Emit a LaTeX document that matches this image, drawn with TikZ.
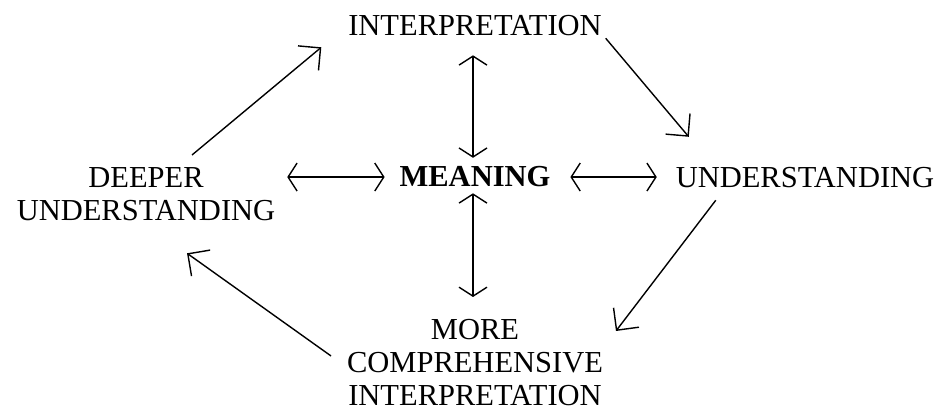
\documentclass[tikz,border=0pt]{standalone}
\usepackage{fontspec}
\setmainfont{Liberation Serif}
\usepackage{tikz}
\usetikzlibrary{arrows.meta, positioning}

\begin{document}
\begin{tikzpicture}[
  x=1pt, y=1pt,
  % Text labels (no frame)
  lbl/.style={inner sep=0pt, outer sep=0pt, align=center,
              font=\fontsize{30.5}{33}\selectfont},
  % Cycle arrows (single head, large barb)
  arrow/.style={-{Straight Barb[length=16pt, width=32pt]}, line width=1.4pt},
  % Links to the centre (head at both ends)
  darrow/.style={{Straight Barb[length=9pt, width=28pt]}-{Straight Barb[length=9pt, width=28pt]},
                 line width=1.4pt}
]
\useasboundingbox (0,0) rectangle (949,419);

%% ── Labels ──────────────────────────────────────────────────
\node[lbl, anchor=base]  (interp)  at (475, 383) {INTERPRETATION};
\node[lbl, anchor=base]  (meaning) at (475, 232) {\bfseries MEANING};
\node[lbl, anchor=base]  (under)   at (805, 231) {UNDERSTANDING};
\node[lbl, anchor=north] (deeper)  at (146, 251) {DEEPER\\UNDERSTANDING};
\node[lbl, anchor=north] (more)    at (475, 100)
    {MORE\\COMPREHENSIVE\\INTERPRETATION};

%% ── Outer cycle ─────────────────────────────────────────────
\draw[arrow] ([xshift=46pt, yshift=13pt]deeper.north)
          -- ([xshift=-27pt, yshift=-11pt]interp.south west);
\draw[arrow] ([xshift=4pt, yshift=-2pt]interp.south east)
          -- ([xshift=13pt, yshift=31pt]under.north west);
\draw[arrow] ([xshift=40pt, yshift=-12pt]under.south west)
          -- ([xshift=13pt, yshift=-12pt]more.north east);
\draw[arrow] ([xshift=-16pt, yshift=-37pt]more.north west)
          -- ([xshift=41pt, yshift=-32pt]deeper.south);

%% ── Links to the centre ─────────────────────────────────────
\draw[darrow] ([xshift=-2pt, yshift=-19pt]interp.south)
           -- ([xshift=-2pt, yshift=9pt]meaning.north);
\draw[darrow] ([xshift=-2pt, yshift=-6pt]meaning.south)
           -- ([xshift=-2pt, yshift=22pt]more.north);
\draw[darrow] ([xshift=12pt]deeper.east |- meaning.west)
           -- ([xshift=-15pt]meaning.west);
\draw[darrow] ([xshift=20pt]meaning.east)
           -- ([xshift=-19pt]under.west |- meaning.east);

\end{tikzpicture}
\end{document}
